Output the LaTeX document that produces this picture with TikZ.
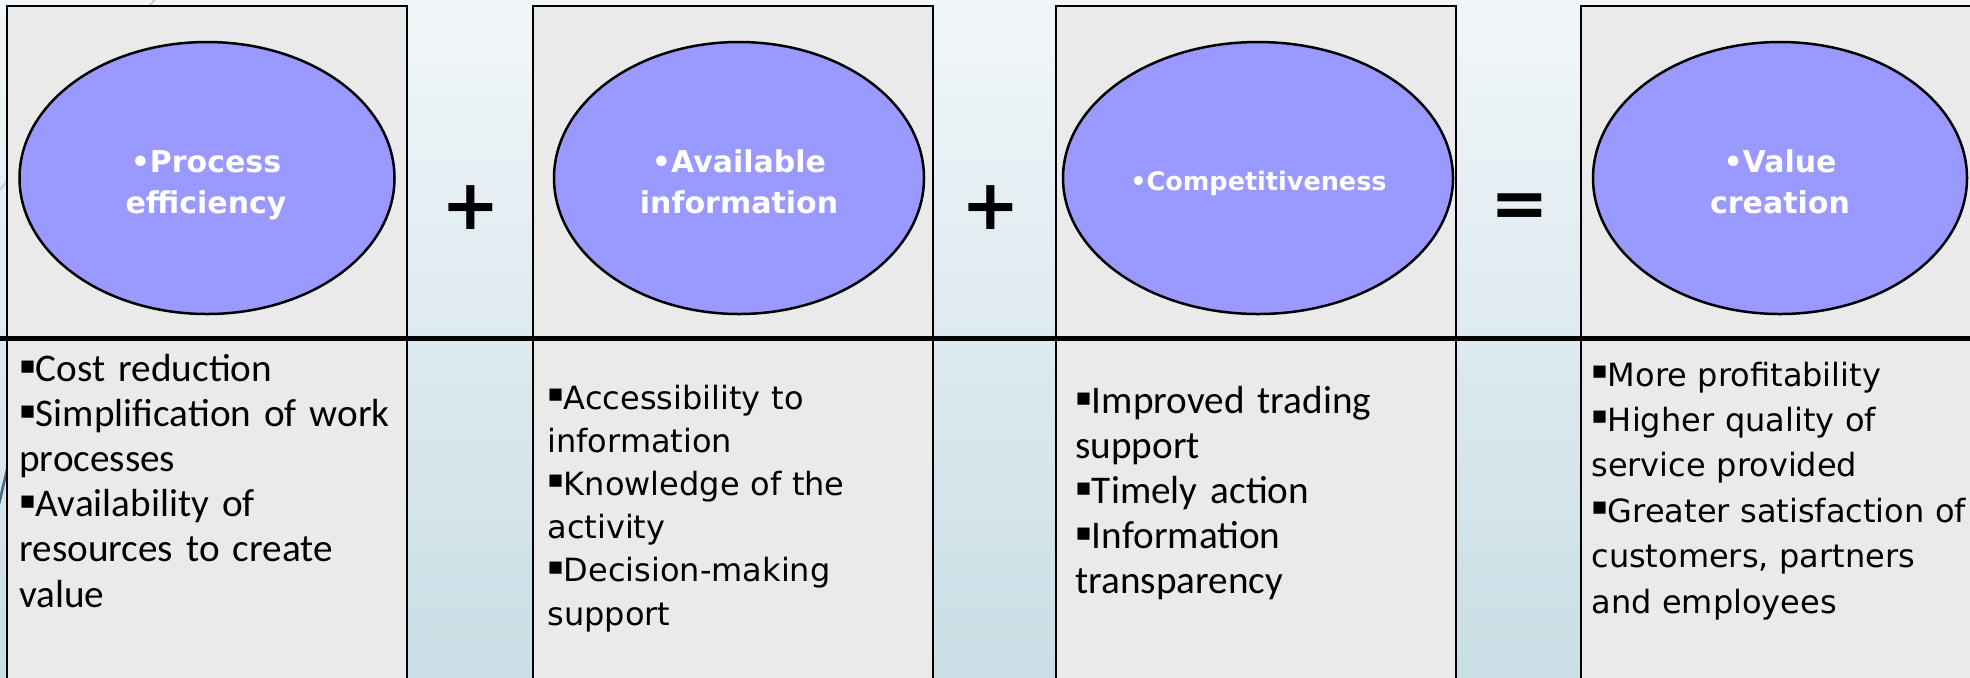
\documentclass[tikz,border=0pt]{standalone}
\usepackage{fontspec}
\setmainfont{DejaVu Sans}
\newfontfamily\carl{Carlito}
\newfontfamily\dvs{DejaVu Sans}
\usetikzlibrary{shapes.geometric}
\definecolor{bgtop}{HTML}{F1F6F9}
\definecolor{bgbot}{HTML}{C9DEE5}
\definecolor{boxgray}{HTML}{EAEAEA}
\definecolor{ellblue}{HTML}{9999FF}
\definecolor{swoosh}{HTML}{46697F}
\definecolor{faintline}{HTML}{C8CED3}
\newcommand\sqb{\raisebox{3.9pt}{\dvs\fontsize{12.2}{12.2}\selectfont ▪}}
\begin{document}
\begin{tikzpicture}[x=0.5pt,y=-0.5pt,
  panel/.style={rectangle, draw=black, line width=1pt, fill=boxgray, inner sep=0pt, minimum width=200pt},
  toppanel/.style={panel, minimum height=166pt},
  botpanel/.style={panel, minimum height=181pt},
  oval/.style={ellipse, draw=black, line width=1.25pt, fill=ellblue, inner sep=0pt, minimum height=136pt},
  ovallabel/.style={text=white, font=\dvs\bfseries\fontsize{15}{20.5}\selectfont, align=center, text width=160pt, inner sep=0pt, anchor=base},
  opsym/.style={font=\dvs\bfseries\fontsize{35}{35}\selectfont, inner sep=0pt},
  listtext/.style={align=left, text width=215pt, inner sep=0pt, anchor=base west},
  sepline/.style={line width=2.5pt, black}
]
\useasboundingbox (0,0) rectangle (1970,677);
\shade[top color=bgtop, bottom color=bgbot] (0,0) rectangle (1970,677);
% faint background swooshes
\draw[faintline, line width=1pt] (156,-2) -- (0,190);
\draw[swoosh, line width=1.3pt] (14,440) -- (-2,508);

% panels
\node[toppanel] (t1) at (207.25,172) {};
\node[toppanel] (t2) at (732.75,172) {};
\node[toppanel] (t3) at (1255.6,172) {};
\node[toppanel] (t4) at (1780.5,172) {};
\node[botpanel] (b1) at (207.25,519) {};
\node[botpanel] (b2) at (732.75,519) {};
\node[botpanel] (b3) at (1255.6,519) {};
\node[botpanel] (b4) at (1780.5,519) {};

% separator
\coordinate (sepL) at (0,338.5);
\coordinate (sepR) at (1970,338.5);
\draw[sepline] (sepL) -- (sepR);

% ellipses
\node[oval, minimum width=187.5pt] (e1) at (207,178) {};
\node[oval, minimum width=185pt] (e2) at (739,178) {};
\node[oval, minimum width=195pt] (e3) at (1258,178) {};
\node[oval, minimum width=187pt] (e4) at (1780,178) {};

\node[ovallabel] (l1) at (206,172) {•Process\\efficiency};
\node[ovallabel] (l2) at (739,172) {•Available\\information};
\node[ovallabel, font=\dvs\bfseries\fontsize{12.75}{15}\selectfont] (l3) at (1258.5,190) {•Competitiveness};
\node[ovallabel] (l4) at (1780,172.7) {•Value\\creation};

% operators
\node[opsym] (p1) at (471,208) {+};
\node[opsym] (p2) at (991,208) {+};
\node[opsym] (eq) at (1519.5,211) {=};

% lists
\node[listtext, font=\carl\fontsize{19.6}{22.6}\selectfont] (x1) at (19,381)
  {\sqb Cost reduction\\\sqb Simplification of work\\processes\\\sqb Availability of\\resources to create\\value};
\node[listtext, font=\dvs\fontsize{16}{21.6}\selectfont] (x2) at (547,409)
  {\sqb Accessibility to\\information\\\sqb Knowledge of the\\activity\\\sqb Decision-making\\support};
\node[listtext, font=\carl\fontsize{19.6}{22.5}\selectfont] (x3) at (1075,413)
  {\sqb Improved trading\\support\\\sqb Timely action\\\sqb Information\\transparency};
\node[listtext, font=\dvs\fontsize{16}{22.7}\selectfont] (x4) at (1591,386)
  {\sqb More profitability\\\sqb Higher quality of\\service provided\\\sqb Greater satisfaction of\\customers, partners\\and employees};
\end{tikzpicture}
\end{document}
